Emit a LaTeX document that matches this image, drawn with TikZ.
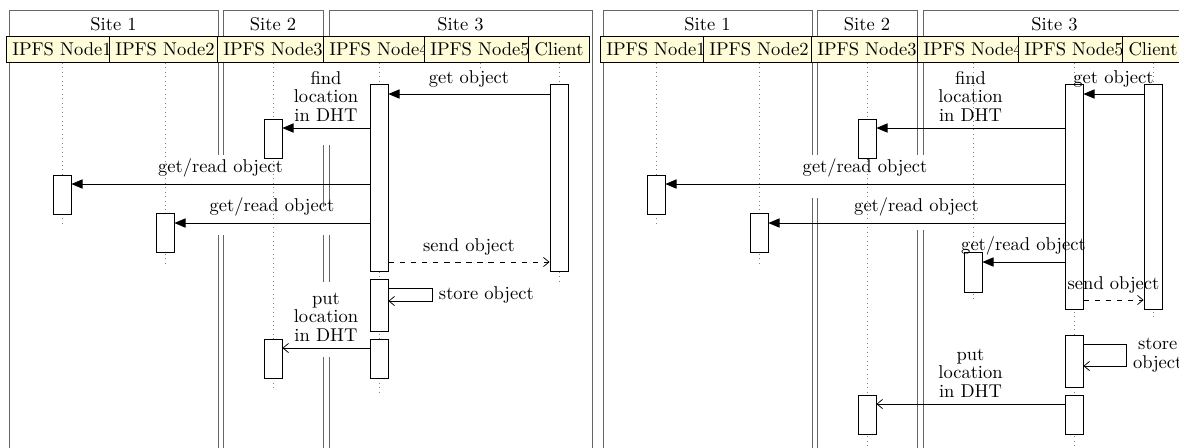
\documentclass[tikz,border=0pt]{standalone}
\usetikzlibrary{arrows.meta}
\tikzstyle{siteline}=[black!60]
\tikzstyle{head}=[draw, fill=yellow!15]
\tikzstyle{life}=[dotted, black!50]
\tikzstyle{act}=[draw, fill=white, minimum width=9.8pt, inner sep=0pt]
\tikzstyle{call}=[-{Triangle[length=6pt,width=5pt]}]
\tikzstyle{ret}=[-{Straight Barb[length=3pt,width=5pt]}]
\tikzstyle{reply}=[ret, dashed]
\newcommand{\actbox}[4]{%
  \pgfmathsetmacro\ymid{(#3+#4)/2}%
  \node[act, minimum height={(#4-#3)*0.54pt}] (#1) at (#2 |- 0,\ymid) {};}

\begin{document}
\begin{tikzpicture}[x=0.54pt, y=-0.54pt]
  \useasboundingbox (0,0) rectangle (1179,447);
  \clip (0,0) rectangle (1179,447);
  % first run
  \begin{scope}[name prefix=L]
    \draw[siteline] (9,450) -- (9,10) -- (218,10) -- (218,155);
    \draw[siteline] (218,235) -- (218,450);
    \draw[siteline] (223,155) -- (223,10) -- (323,10) -- (323,40);
    \draw[siteline] (223,235) -- (223,450);
    \draw[siteline] (329,40) -- (329,10) -- (592,10) -- (592,450);
    \foreach \x in {323,329} {
      \draw[siteline] (\x,145) -- (\x,207);
      \draw[siteline] (\x,235) -- (\x,282);
      \draw[siteline] (\x,357) -- (\x,450);
    }
    \node (s1) at (113.5,24) {Site 1};
    \node (s2) at (273,24) {Site 2};
    \node (s3) at (460.5,24) {Site 3};
    \foreach \nm/\x/\txt in {n1/62/IPFS Node1, n2/165/IPFS Node2, n3/273/IPFS Node3, n4/379/IPFS Node4, n5/480/IPFS Node5, cl/559/Client}
      \node[head] (\nm) at (\x,49.5) {\txt};
    \foreach \nm/\y in {n1/225, n2/265, n3/390, n4/392, n5/70, cl/284}
      \draw[life] (\nm.south) -- (\nm |- 0,\y);
    \actbox{cla}{cl}{84}{271}
    \actbox{a4}{n4}{84}{271}
    \actbox{a3}{n3}{119}{158}
    \actbox{a1}{n1}{175}{214}
    \actbox{a2}{n2}{213}{252}
    \actbox{b4}{n4}{279}{331}
    \actbox{c4}{n4}{339}{378}
    \actbox{c3}{n3}{339}{378}
    \draw[call] (cla.west |- 0,94) -- node[above] {get object} (a4.east |- 0,94);
    \draw[call] (a4.west |- 0,128) -- node[above, align=center] {find\\[-2pt]location\\[-2pt]in DHT} (a3.east |- 0,128);
    \draw[call] (a4.west |- 0,184) -- node[above] {get/read object} (a1.east |- 0,184);
    \draw[call] (a4.west |- 0,223) -- node[above] {get/read object} (a2.east |- 0,223);
    \draw[reply] (a4.east |- 0,262) -- node[above] {send object} (cla.west |- 0,262);
    \draw[ret] (b4.east |- 0,288) -- ++(44,0) -- node[right] {store object} ++(0,13) -- (b4.east |- 0,301);
    \draw[ret] (c4.west |- 0,348) -- node[above, align=center] {put\\[-2pt]location\\[-2pt]in DHT} (c3.east |- 0,348);
  \end{scope}
  % second run
  \begin{scope}[shift={(594,0)}, name prefix=R]
    \draw[siteline] (9,450) -- (9,10) -- (218,10) -- (218,155);
    \draw[siteline] (218,198) -- (218,450);
    \draw[siteline] (223,155) -- (223,10) -- (323,10) -- (323,155);
    \draw[siteline] (223,198) -- (223,450);
    \draw[siteline] (323,230) -- (323,450);
    \draw[siteline] (329,155) -- (329,10) -- (592,10) -- (592,450);
    \draw[siteline] (329,230) -- (329,450);
    \node (s1) at (113.5,24) {Site 1};
    \node (s2) at (273,24) {Site 2};
    \node (s3) at (460.5,24) {Site 3};
    \foreach \nm/\x/\txt in {n1/62/IPFS Node1, n2/165/IPFS Node2, n3/273/IPFS Node3, n4/379/IPFS Node4, n5/480/IPFS Node5, cl/559/Client}
      \node[head] (\nm) at (\x,49.5) {\txt};
    \foreach \nm/\y in {n1/225, n2/265, n3/450, n4/302, n5/450, cl/320}
      \draw[life] (\nm.south) -- (\nm |- 0,\y);
    \actbox{cla}{cl}{84}{309}
    \actbox{a5}{n5}{84}{309}
    \actbox{a3}{n3}{119}{158}
    \actbox{a1}{n1}{175}{214}
    \actbox{a2}{n2}{213}{252}
    \actbox{a4}{n4}{252}{292}
    \actbox{b5}{n5}{335}{387}
    \actbox{c5}{n5}{395}{434}
    \actbox{c3}{n3}{395}{434}
    \draw[call] (cla.west |- 0,94) -- node[above] {get object} (a5.east |- 0,94);
    \draw[call] (a5.west |- 0,128) -- node[above, align=center] {find\\[-2pt]location\\[-2pt]in DHT} (a3.east |- 0,128);
    \draw[call] (a5.west |- 0,184) -- node[above] {get/read object} (a1.east |- 0,184);
    \draw[call] (a5.west |- 0,223) -- node[above] {get/read object} (a2.east |- 0,223);
    \draw[call] (a5.west |- 0,262) -- node[above] {get/read object} (a4.east |- 0,262);
    \draw[reply] (a5.east |- 0,300) -- node[above] {send object} (cla.west |- 0,300);
    \draw[ret] (b5.east |- 0,344) -- ++(43,0) -- node[right, align=center] {store\\[-2pt]object} ++(0,22) -- (b5.east |- 0,366);
    \draw[ret] (c5.west |- 0,404) -- node[above, align=center] {put\\[-2pt]location\\[-2pt]in DHT} (c3.east |- 0,404);
  \end{scope}
\end{tikzpicture}
\end{document}
